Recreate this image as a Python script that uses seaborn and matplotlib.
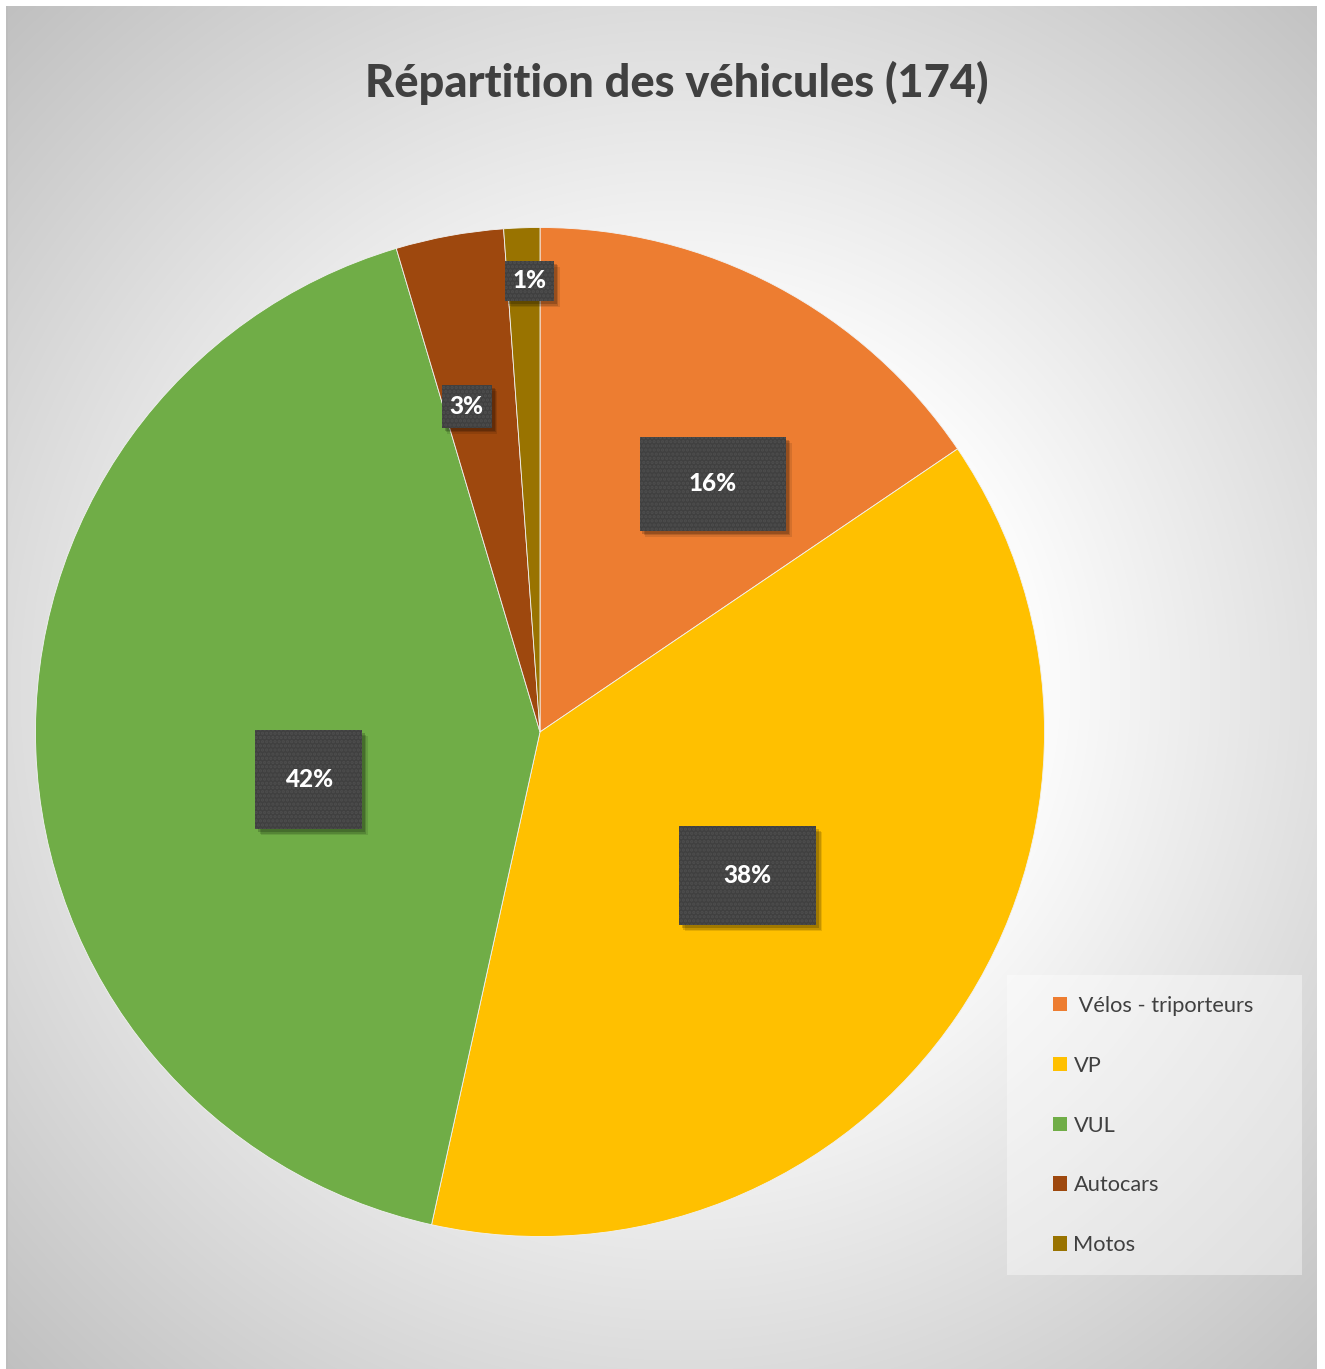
import numpy as np
import matplotlib
matplotlib.use("Agg")
import matplotlib.pyplot as plt
from matplotlib.patches import Rectangle
import seaborn as sns

# ---- data ----
categories = [" Vélos - triporteurs", "VP", "VUL", "Autocars", "Motos"]
counts = [27, 66, 73, 6, 2]
colors = ["#ED7D31", "#FFC000", "#70AD47", "#9E480E", "#997300"]
title = "Répartition des véhicules (174)"

# label placement (pie-radius units) and box sizes
label_pos = [(0.343, 0.492), (0.412, -0.285), (-0.458, -0.095), (-0.145, 0.646), (-0.020, 0.894)]
label_box = [(0.291, 0.186), (0.272, 0.196), (0.212, 0.196), (0.099, 0.085), (0.097, 0.081)]

sns.set_theme(style="white")
plt.rcParams["font.family"] = ["Lato", "DejaVu Sans"]
plt.rcParams["hatch.linewidth"] = 1.6

W, H = 1325, 1369
fig = plt.figure(figsize=(W / 100, H / 100), dpi=100)
fig.patch.set_facecolor("white")

# ---- background radial gradient ----
bx0, by0, bx1, by1 = 6, 6, 1317, 1369
bg = fig.add_axes([bx0 / W, 1 - by1 / H, (bx1 - bx0) / W, (by1 - by0) / H])
yy, xx = np.mgrid[by0:by1, bx0:bx1]
d = np.hypot(xx - 680, yy - 690)
val = np.clip(255 - 0.1 * np.clip(d - 330, 0, None), 185, 255) / 255.0
img = np.dstack([val, val, val])
bg.imshow(img, aspect="auto", extent=(0, 1, 0, 1), interpolation="bilinear")
bg.set_axis_off()
fig.add_artist(Rectangle((bx0 / W, 0), 2 / W, 1 - by0 / H, transform=fig.transFigure,
                         facecolor="#BDBDBD", edgecolor="none"))

# ---- pie ----
R = 504.5
half = 550
cx, cy = 540, 732
ax = fig.add_axes([(cx - half) / W, 1 - (cy + half) / H, 2 * half / W, 2 * half / H])
wedges, _ = ax.pie(counts, colors=colors, startangle=90, counterclock=False, radius=1,
                   wedgeprops=dict(edgecolor="#F2F2F2", linewidth=0.6))
lim = half / R
ax.set_xlim(-lim, lim)
ax.set_ylim(-lim, lim)
ax.set_aspect("auto")
ax.set_axis_off()

total = sum(counts)
px = 1.0 / R
for (lx, ly), (bw, bh), v in zip(label_pos, label_box, counts):
    for k, a in [(6, 0.10), (4.5, 0.14), (3, 0.18)]:
        ax.add_patch(Rectangle((lx - bw / 2 + k * px * 0.9, ly - bh / 2 - k * px), bw, bh,
                               facecolor="black", edgecolor="none", alpha=a, zorder=4))
    ax.add_patch(Rectangle((lx - bw / 2, ly - bh / 2), bw, bh, facecolor="#404040",
                           edgecolor="#4E4E4E", linewidth=0, hatch="....", zorder=5))
    ax.text(lx, ly, f"{v / total * 100:.0f}%", ha="center", va="center", color="white",
            fontsize=17.5, fontweight="black", zorder=6)

# ---- title ----
fig.text(677 / W, 1 - 83 / H, title, ha="center", va="center", fontsize=32.5,
         fontweight="black", color="#404040")

# ---- legend ----
fig.add_artist(Rectangle((1007 / W, 1 - 1275 / H), 295 / W, 300 / H, transform=fig.transFigure,
                         facecolor="white", edgecolor="none", alpha=0.4))
leg = fig.legend(wedges, categories, loc="upper left",
                 bbox_to_anchor=(1044 / W, 1 - 987 / H), frameon=False,
                 fontsize=15.7, handlelength=0.65, handleheight=0.65, handletextpad=0.3,
                 labelspacing=1.83, labelcolor="#404040", borderaxespad=0)
for h in leg.legend_handles:
    h.set_edgecolor("none")

fig.savefig("out.png", dpi=100)
